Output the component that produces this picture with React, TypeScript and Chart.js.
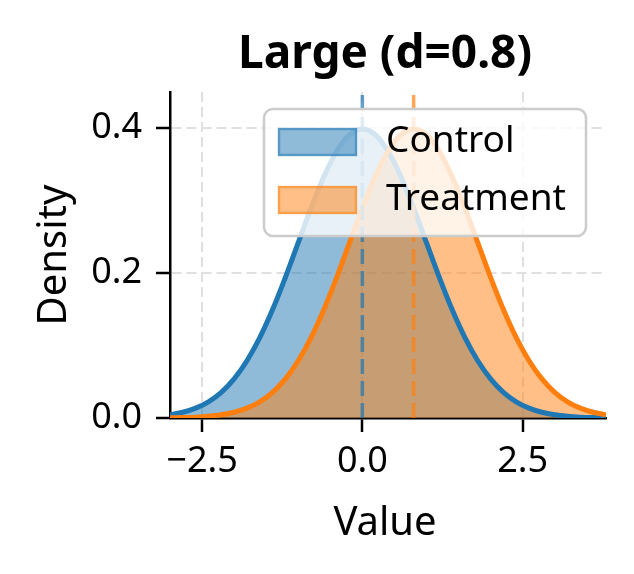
import { useEffect, useRef } from "react";
import { Chart, registerables } from "chart.js";

Chart.register(...registerables);

// values
const xValues = [
  -3.0, -2.8, -2.6, -2.4, -2.2, -2.0, -1.8, -1.6, -1.4, -1.2, -1.0, -0.8, -0.6, -0.4, -0.2,
  0.0, 0.2, 0.4, 0.6, 0.8, 1.0, 1.2, 1.4, 1.6, 1.8, 2.0, 2.2, 2.4, 2.6, 2.8, 3.0, 3.2, 3.4, 3.6, 3.8,
];
const controlDensity = [
  0.0044, 0.0079, 0.0136, 0.0224, 0.0355, 0.054, 0.079, 0.1109, 0.1497, 0.1942, 0.242, 0.2897,
  0.3332, 0.3683, 0.391, 0.3989, 0.391, 0.3683, 0.3332, 0.2897, 0.242, 0.1942, 0.1497, 0.1109,
  0.079, 0.054, 0.0355, 0.0224, 0.0136, 0.0079, 0.0044, 0.0024, 0.0012, 0.0006, 0.0003,
];
const treatmentDensity = [
  0.0003, 0.0006, 0.0012, 0.0024, 0.0044, 0.0079, 0.0136, 0.0224, 0.0355, 0.054, 0.079, 0.1109,
  0.1497, 0.1942, 0.242, 0.2897, 0.3332, 0.3683, 0.391, 0.3989, 0.391, 0.3683, 0.3332, 0.2897,
  0.242, 0.1942, 0.1497, 0.1109, 0.079, 0.054, 0.0355, 0.0224, 0.0136, 0.0079, 0.0044,
];
const seriesLabels = ["Control", "Treatment"];
const seriesMeans = [0, 0.8];
const xTicks = [-2.5, 0, 2.5];
const yTicks = [0, 0.2, 0.4];
const chartTitle = "Large (d=0.8)";
const xTitle = "Value";
const yTitle = "Density";

const BLUE = "#1f77b4";
const ORANGE = "#ff7f0e";
const BLUE_FILL = "rgba(31,119,180,0.5)";
const ORANGE_FILL = "rgba(255,127,14,0.5)";
const FONT = "'Noto Sans', 'DejaVu Sans', sans-serif";

const fmt = (v: number) => v.toFixed(1).replace("-", "\u2212");

export default function App() {
  const chartRef = useRef<HTMLCanvasElement>(null);
  const chartInstance = useRef<Chart | null>(null);

  useEffect(() => {
    document.body.style.margin = "0";
    if (!chartRef.current) return;
    if (chartInstance.current) chartInstance.current.destroy();
    const ctx = chartRef.current.getContext("2d");
    if (!ctx) return;

    const colors = [BLUE, ORANGE];
    const fills = [BLUE_FILL, ORANGE_FILL];

    const decorations = {
      id: "decorations",
      afterDatasetsDraw(chart: Chart) {
        const c = chart.ctx;
        const area = chart.chartArea;
        const xs = chart.scales.x;
        // mean lines
        seriesMeans.forEach((m, i) => {
          const px = xs.getPixelForValue(m);
          c.save();
          c.strokeStyle = colors[i];
          c.globalAlpha = 0.7;
          c.lineWidth = 3.5;
          c.setLineDash([15, 7]);
          c.beginPath();
          c.moveTo(px, area.bottom);
          c.lineTo(px, area.top);
          c.stroke();
          c.restore();
        });
      },
      afterDraw(chart: Chart) {
        const c = chart.ctx;
        const area = chart.chartArea;
        c.save();
        // title
        c.fillStyle = "#000";
        c.textAlign = "center";
        c.textBaseline = "alphabetic";
        c.font = `bold 46px ${FONT}`;
        c.fillText(chartTitle, 385, 68);
        // axis titles
        c.font = `40px ${FONT}`;
        c.fillText(xTitle, (area.left + area.right) / 2 - 3, 535);
        c.translate(66, (area.top + area.bottom) / 2);
        c.rotate(-Math.PI / 2);
        c.fillText(yTitle, 0, 0);
        c.restore();

        // legend
        c.save();
        const bx = 264, by = 109, bw = 322, bh = 127;
        c.beginPath();
        c.roundRect(bx, by, bw, bh, 9);
        c.fillStyle = "rgba(255,255,255,0.8)";
        c.fill();
        c.lineWidth = 2.5;
        c.strokeStyle = "#cccccc";
        c.stroke();
        seriesLabels.forEach((label, i) => {
          const hy = 128 + i * 58;
          c.fillStyle = fills[i];
          c.fillRect(278, hy, 79, 28);
          c.globalAlpha = 0.5;
          c.strokeStyle = colors[i];
          c.lineWidth = 2.5;
          c.strokeRect(279, hy + 1, 77, 26);
          c.globalAlpha = 1;
          c.fillStyle = "#000";
          c.font = `37px ${FONT}`;
          c.textAlign = "left";
          c.textBaseline = "middle";
          c.fillText(label, 386, hy + 13);
        });
        c.restore();
      },
    };

    const series = [controlDensity, treatmentDensity];
    const points = (vals: number[]) => xValues.map((x, j) => ({ x, y: vals[j] }));

    // fills first (drawn underneath), then both curves on top
    const fillSets = series.map((vals, i) => ({
      label: seriesLabels[i] + " fill",
      data: points(vals),
      borderWidth: 0,
      borderColor: "rgba(0,0,0,0)",
      backgroundColor: fills[i],
      fill: "origin",
      pointRadius: 0,
      cubicInterpolationMode: "monotone" as const,
      order: 4 - i,
    }));
    const lineSets = series.map((vals, i) => ({
      label: seriesLabels[i],
      data: points(vals),
      borderColor: colors[i],
      backgroundColor: colors[i],
      borderWidth: 5,
      fill: false,
      pointRadius: 0,
      cubicInterpolationMode: "monotone" as const,
      order: 2 - i,
    }));

    chartInstance.current = new Chart(ctx, {
      type: "line",
      data: { datasets: [...fillSets, ...lineSets] },
      options: {
        animation: false,
        responsive: false,
        layout: { padding: { top: 92, right: 28, left: 0, bottom: 0 } },
        plugins: {
          legend: { display: false },
          title: { display: false },
          tooltip: { enabled: false },
        },
        scales: {
          x: {
            type: "linear",
            min: -3,
            max: 3.8,
            afterBuildTicks: (scale) => {
              scale.ticks = xTicks.map((value) => ({ value }));
            },
            afterFit: (scale) => {
              scale.height = 156;
            },
            grid: {
              color: "#e0e0e0",
              lineWidth: 2,
              tickColor: "#000",
              tickWidth: 2.5,
              tickLength: 14,
            },
            border: { color: "#000", width: 2.5, dash: [10, 5] },
            ticks: {
              color: "#000",
              font: { family: FONT, size: 36 },
              padding: 8,
              maxRotation: 0,
              callback: (v) => fmt(Number(v)),
            },
          },
          y: {
            type: "linear",
            min: 0,
            max: 0.45,
            afterBuildTicks: (scale) => {
              scale.ticks = yTicks.map((value) => ({ value }));
            },
            afterFit: (scale) => {
              scale.width = 170;
            },
            grid: {
              color: "#e0e0e0",
              lineWidth: 2,
              tickColor: "#000",
              tickWidth: 2.5,
              tickLength: 14,
            },
            border: { color: "#000", width: 2.5, dash: [10, 5] },
            ticks: {
              color: "#000",
              font: { family: FONT, size: 36 },
              padding: 14,
              callback: (v) => fmt(Number(v)),
            },
          },
        },
      },
      plugins: [decorations],
    });

    return () => {
      if (chartInstance.current) {
        chartInstance.current.destroy();
        chartInstance.current = null;
      }
    };
  }, []);

  return (
    <div style={{ width: 634, height: 574, background: "#fff" }}>
      <canvas ref={chartRef} width={634} height={574}></canvas>
    </div>
  );
}
